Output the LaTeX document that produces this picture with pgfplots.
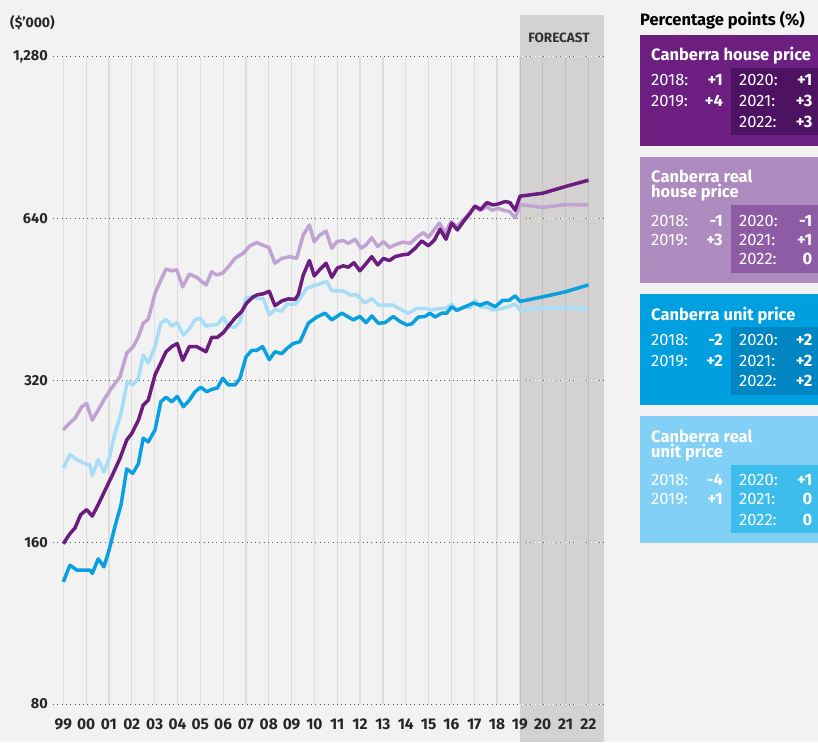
\documentclass[border=0pt]{standalone}
\usepackage{pgfplots}
\pgfplotsset{compat=1.18}
\usepackage{fontspec}
\setmainfont{Fira Sans}
\definecolor{bgc}{HTML}{F2F2F2}
\definecolor{shadec}{HTML}{D3D2D0}
\definecolor{hse}{HTML}{6B1D7F}
\definecolor{rhse}{HTML}{C0A3D2}
\definecolor{unit}{HTML}{0AA0E0}
\definecolor{runit}{HTML}{A8DDF7}
\definecolor{boxa}{HTML}{6C1F80}
\definecolor{boxai}{HTML}{4E1262}
\definecolor{boxb}{HTML}{AD8BBE}
\definecolor{boxbi}{HTML}{8E5BA5}
\definecolor{boxc}{HTML}{009FE0}
\definecolor{boxci}{HTML}{0086C2}
\definecolor{boxd}{HTML}{82D0F5}
\definecolor{boxdi}{HTML}{3CBDEB}

\newcommand{\fs}[1]{\fontsize{#1}{#1}\selectfont}
% one row of the side panel: baseline, left year, left value, right year, right value
\newcommand{\prow}[5]{%
  \node[anchor=base west, inner sep=0] at (651pt,-#1pt) {#2};
  \node[anchor=base east, inner sep=0] at (723pt,-#1pt) {\bfseries #3};
  \node[anchor=base west, inner sep=0] at (739pt,-#1pt) {#4};
  \node[anchor=base east, inner sep=0] at (812.5pt,-#1pt) {\bfseries #5};
}

\begin{document}
\begin{tikzpicture}
\path[use as bounding box, fill=bgc] (0pt,0pt) rectangle (818pt,-742pt);
\fill[shadec] (520pt,-15pt) rectangle (604pt,-742pt);
\node[anchor=base, inner sep=0, text=black!80, font=\fs{13.5}\bfseries] at (559pt,-42.3pt) {FORECAST};
\node[anchor=base west, inner sep=0, text=black!85, font=\fs{14}\bfseries] at (10pt,-27pt) {(\$’000)};

\begin{axis}[
    at={(53pt,-704pt)}, anchor=south west,
    scale only axis, width=551pt, height=647pt,
    xmin=1998.55, xmax=2022.68,
    ymode=log, log basis y=2,
    ymin=80, ymax=1280,
    xtick={1999,...,2022},
    xticklabels={99,00,01,02,03,04,05,06,07,08,09,10,11,12,13,14,15,16,17,18,19,20,21,22},
    ytick={80,160,320,640,1280},
    yticklabels={80,160,320,640,{1,280}},
    axis line style={draw=none},
    major tick length=0pt,
    xmajorgrids, ymajorgrids,
    x grid style={black, opacity=0.09, line width=1.2pt},
    y grid style={black!65, line width=1pt, dash pattern=on 1pt off 3.3pt},
    xticklabel style={font=\fs{15.5}\bfseries, text=black!85, anchor=base, inner sep=0pt, yshift=-25pt},
    yticklabel style={font=\fs{14.5}\bfseries, text=black!85, anchor=east, inner sep=0pt, xshift=-5pt},
    clip=false,
    line join=round,
]
\draw[white, line width=1pt, dash pattern=on 1pt off 3.3pt] (axis cs:2019.1,80) -- (axis cs:2022.68,80);
\draw[white, line width=1pt, dash pattern=on 1pt off 3.3pt] (axis cs:2019.1,160) -- (axis cs:2022.68,160);
\draw[white, line width=1pt, dash pattern=on 1pt off 3.3pt] (axis cs:2019.1,320) -- (axis cs:2022.68,320);
\draw[white, line width=1pt, dash pattern=on 1pt off 3.3pt] (axis cs:2019.1,640) -- (axis cs:2022.68,640);
\draw[white, line width=1pt, dash pattern=on 1pt off 3.3pt] (axis cs:2019.1,1280) -- (axis cs:2022.68,1280);
% Canberra real house price
\addplot[rhse, line width=3.5pt, mark=none] coordinates {
(1999.00,259) (1999.29,267) (1999.51,272) (1999.81,286) (2000.02,290) (2000.27,270)
(2000.53,282) (2000.83,297) (2001.12,310) (2001.48,325) (2001.78,360) (2002.07,370)
(2002.29,386) (2002.50,409) (2002.72,416) (2003.02,465) (2003.27,492) (2003.50,516)
(2003.75,512) (2003.97,514) (2004.23,478) (2004.52,505) (2004.84,498) (2005.25,482)
(2005.50,510) (2005.72,503) (2005.98,507) (2006.23,521) (2006.52,540) (2006.88,552)
(2007.18,570) (2007.48,578) (2007.76,571) (2008.00,566) (2008.27,529) (2008.57,540)
(2008.93,544) (2009.22,540) (2009.51,597) (2009.78,623) (2009.99,580) (2010.24,597)
(2010.51,607) (2010.76,564) (2010.98,580) (2011.26,583) (2011.48,576) (2011.78,586)
(2012.04,564) (2012.26,572) (2012.51,590) (2012.77,568) (2013.02,580) (2013.28,566)
(2013.60,574) (2013.89,579) (2014.19,576) (2014.48,591) (2014.77,603) (2014.99,591)
(2015.21,608) (2015.47,628) (2015.72,603) (2015.98,632) (2016.23,619) (2016.52,637)
(2016.81,657) (2017.03,672) (2017.25,663) (2017.55,674) (2017.77,664) (2018.05,669)
(2018.27,664) (2018.54,660) (2018.79,643) (2019,680) (2020,672) (2021,680) (2022,679)
};
% Canberra real unit price
\addplot[runit, line width=3.5pt, mark=none] coordinates {
(1999.00,220) (1999.29,233) (1999.59,228) (1999.95,224) (2000.17,223) (2000.27,213)
(2000.53,228) (2000.78,216) (2001.01,229) (2001.26,255) (2001.53,278) (2001.80,318)
(2002.04,314) (2002.29,323) (2002.50,357) (2002.72,345) (2003.02,370) (2003.27,409)
(2003.50,416) (2003.75,404) (2003.99,410) (2004.26,389) (2004.52,399) (2004.77,415)
(2004.99,418) (2005.25,404) (2005.50,406) (2005.75,407) (2006.01,420) (2006.23,403)
(2006.52,402) (2006.74,412) (2007.00,455) (2007.25,458) (2007.47,455) (2007.76,454)
(2008.02,424) (2008.27,433) (2008.57,431) (2008.79,444) (2009.15,444) (2009.37,455)
(2009.66,475) (2009.95,480) (2010.24,484) (2010.54,489) (2010.76,470) (2011.05,470)
(2011.26,470) (2011.56,462) (2011.85,462) (2012.21,446) (2012.51,455) (2012.80,442)
(2013.17,442) (2013.45,442) (2013.82,433) (2014.11,427) (2014.48,436) (2014.84,436)
(2015.14,433) (2015.50,436) (2015.79,436) (2016.01,444) (2016.23,433) (2016.52,439)
(2016.81,437) (2017.03,451) (2017.25,439) (2017.55,438) (2017.81,433) (2018.13,435)
(2018.49,439) (2018.79,444) (2019,433) (2020,437) (2021,437) (2022,434)
};
% Canberra unit price
\addplot[unit, line width=3.5pt, mark=none] coordinates {
(1999.00,135) (1999.29,145) (1999.59,142) (1999.95,142) (2000.17,142) (2000.27,140)
(2000.53,149) (2000.78,144) (2001.01,155) (2001.26,171) (2001.53,188) (2001.78,219)
(2002.04,215) (2002.29,224) (2002.50,250) (2002.72,246) (2003.02,259) (2003.27,292)
(2003.50,298) (2003.75,292) (2003.99,299) (2004.26,286) (2004.52,294) (2004.77,305)
(2005.02,311) (2005.28,305) (2005.50,308) (2005.75,310) (2005.98,323) (2006.23,314)
(2006.52,314) (2006.74,323) (2007.00,354) (2007.25,364) (2007.47,364) (2007.73,370)
(2008.02,350) (2008.27,362) (2008.57,359) (2008.79,367) (2009.07,375) (2009.37,378)
(2009.73,409) (2010.10,420) (2010.46,427) (2010.76,415) (2011.20,427) (2011.70,415)
(2011.99,421) (2012.26,410) (2012.51,422) (2012.80,409) (2013.09,410) (2013.45,421)
(2013.75,412) (2014.04,406) (2014.26,408) (2014.55,420) (2014.84,421) (2015.06,427)
(2015.28,420) (2015.57,427) (2015.79,427) (2016.01,439) (2016.23,432) (2016.60,439)
(2016.96,446) (2017.25,442) (2017.55,447) (2017.91,439) (2018.24,451) (2018.52,451)
(2018.79,460) (2019,449) (2020,458) (2021,468) (2022,482)
};
% Canberra house price
\addplot[hse, line width=3.5pt, mark=none] coordinates {
(1999.00,159) (1999.29,166) (1999.51,170) (1999.76,180) (2000.02,184) (2000.27,179)
(2000.53,188) (2000.83,200) (2001.12,212) (2001.48,229) (2001.78,248) (2002.00,255)
(2002.29,270) (2002.50,288) (2002.72,294) (2003.02,328) (2003.27,345) (2003.50,362)
(2003.75,370) (2003.99,375) (2004.23,349) (2004.52,370) (2004.84,370) (2005.25,362)
(2005.50,385) (2005.75,385) (2006.01,393) (2006.23,404) (2006.52,418) (2006.81,430)
(2007.03,446) (2007.32,458) (2007.50,462) (2007.76,464) (2008.02,469) (2008.27,441)
(2008.57,450) (2008.86,454) (2009.15,453) (2009.29,462) (2009.51,503) (2009.78,535)
(2009.99,501) (2010.24,515) (2010.51,529) (2010.76,498) (2011.00,518) (2011.26,523)
(2011.48,520) (2011.73,530) (2011.99,512) (2012.21,525) (2012.51,544) (2012.77,525)
(2013.02,540) (2013.28,535) (2013.53,544) (2013.82,548) (2014.11,550) (2014.41,564)
(2014.70,582) (2014.99,570) (2015.25,584) (2015.50,612) (2015.76,586) (2016.01,628)
(2016.26,610) (2016.52,632) (2016.81,655) (2017.03,676) (2017.28,666) (2017.55,686)
(2017.81,679) (2018.05,682) (2018.35,689) (2018.56,686) (2018.79,664) (2019,705)
(2020,714) (2021,735) (2022,755)
};
\end{axis}

% side panel
\node[anchor=base west, inner sep=0, font=\fs{16.5}\bfseries] at (640pt,-25pt) {Percentage points (\%)};
\begin{scope}[font=\fs{16.5}, text=white]
\fill[boxa] (640pt,-35pt) rectangle (818pt,-146pt);
\fill[boxai] (730.7pt,-67.7pt) rectangle (818pt,-135pt);
\node[anchor=base west, inner sep=0, font=\fs{16.5}\bfseries] at (651pt,-60pt) {Canberra house price};
\prow{85.7}{2018:}{+1}{2020:}{+1}
\prow{106}{2019:}{+4}{2021:}{+3}
\prow{127.5}{}{}{2022:}{+3}

\fill[boxb] (640pt,-156.7pt) rectangle (818pt,-283pt);
\fill[boxbi] (730.7pt,-205pt) rectangle (818pt,-272.7pt);
\node[anchor=base west, inner sep=0, font=\fs{16.5}\bfseries] at (651pt,-182.3pt) {Canberra real};
\node[anchor=base west, inner sep=0, font=\fs{16.5}\bfseries] at (651pt,-197.3pt) {house price};
\prow{226}{2018:}{-1}{2020:}{-1}
\prow{245}{2019:}{+3}{2021:}{+1}
\prow{264.5}{}{}{2022:}{0}

\fill[boxc] (640pt,-294.3pt) rectangle (818pt,-405pt);
\fill[boxci] (730.7pt,-327.3pt) rectangle (818pt,-395pt);
\node[anchor=base west, inner sep=0, font=\fs{16.5}\bfseries] at (651pt,-320pt) {Canberra unit price};
\prow{345}{2018:}{-2}{2020:}{+2}
\prow{366}{2019:}{+2}{2021:}{+2}
\prow{386.7}{}{}{2022:}{+2}

\fill[boxd] (640pt,-416pt) rectangle (818pt,-543pt);
\fill[boxdi] (730.7pt,-465pt) rectangle (818pt,-532.7pt);
\node[anchor=base west, inner sep=0, font=\fs{16.5}\bfseries] at (651pt,-442.3pt) {Canberra real};
\node[anchor=base west, inner sep=0, font=\fs{16.5}\bfseries] at (651pt,-457.3pt) {unit price};
\prow{485.7}{2018:}{-4}{2020:}{+1}
\prow{504.5}{2019:}{+1}{2021:}{0}
\prow{525}{}{}{2022:}{0}
\end{scope}
\end{tikzpicture}
\end{document}
